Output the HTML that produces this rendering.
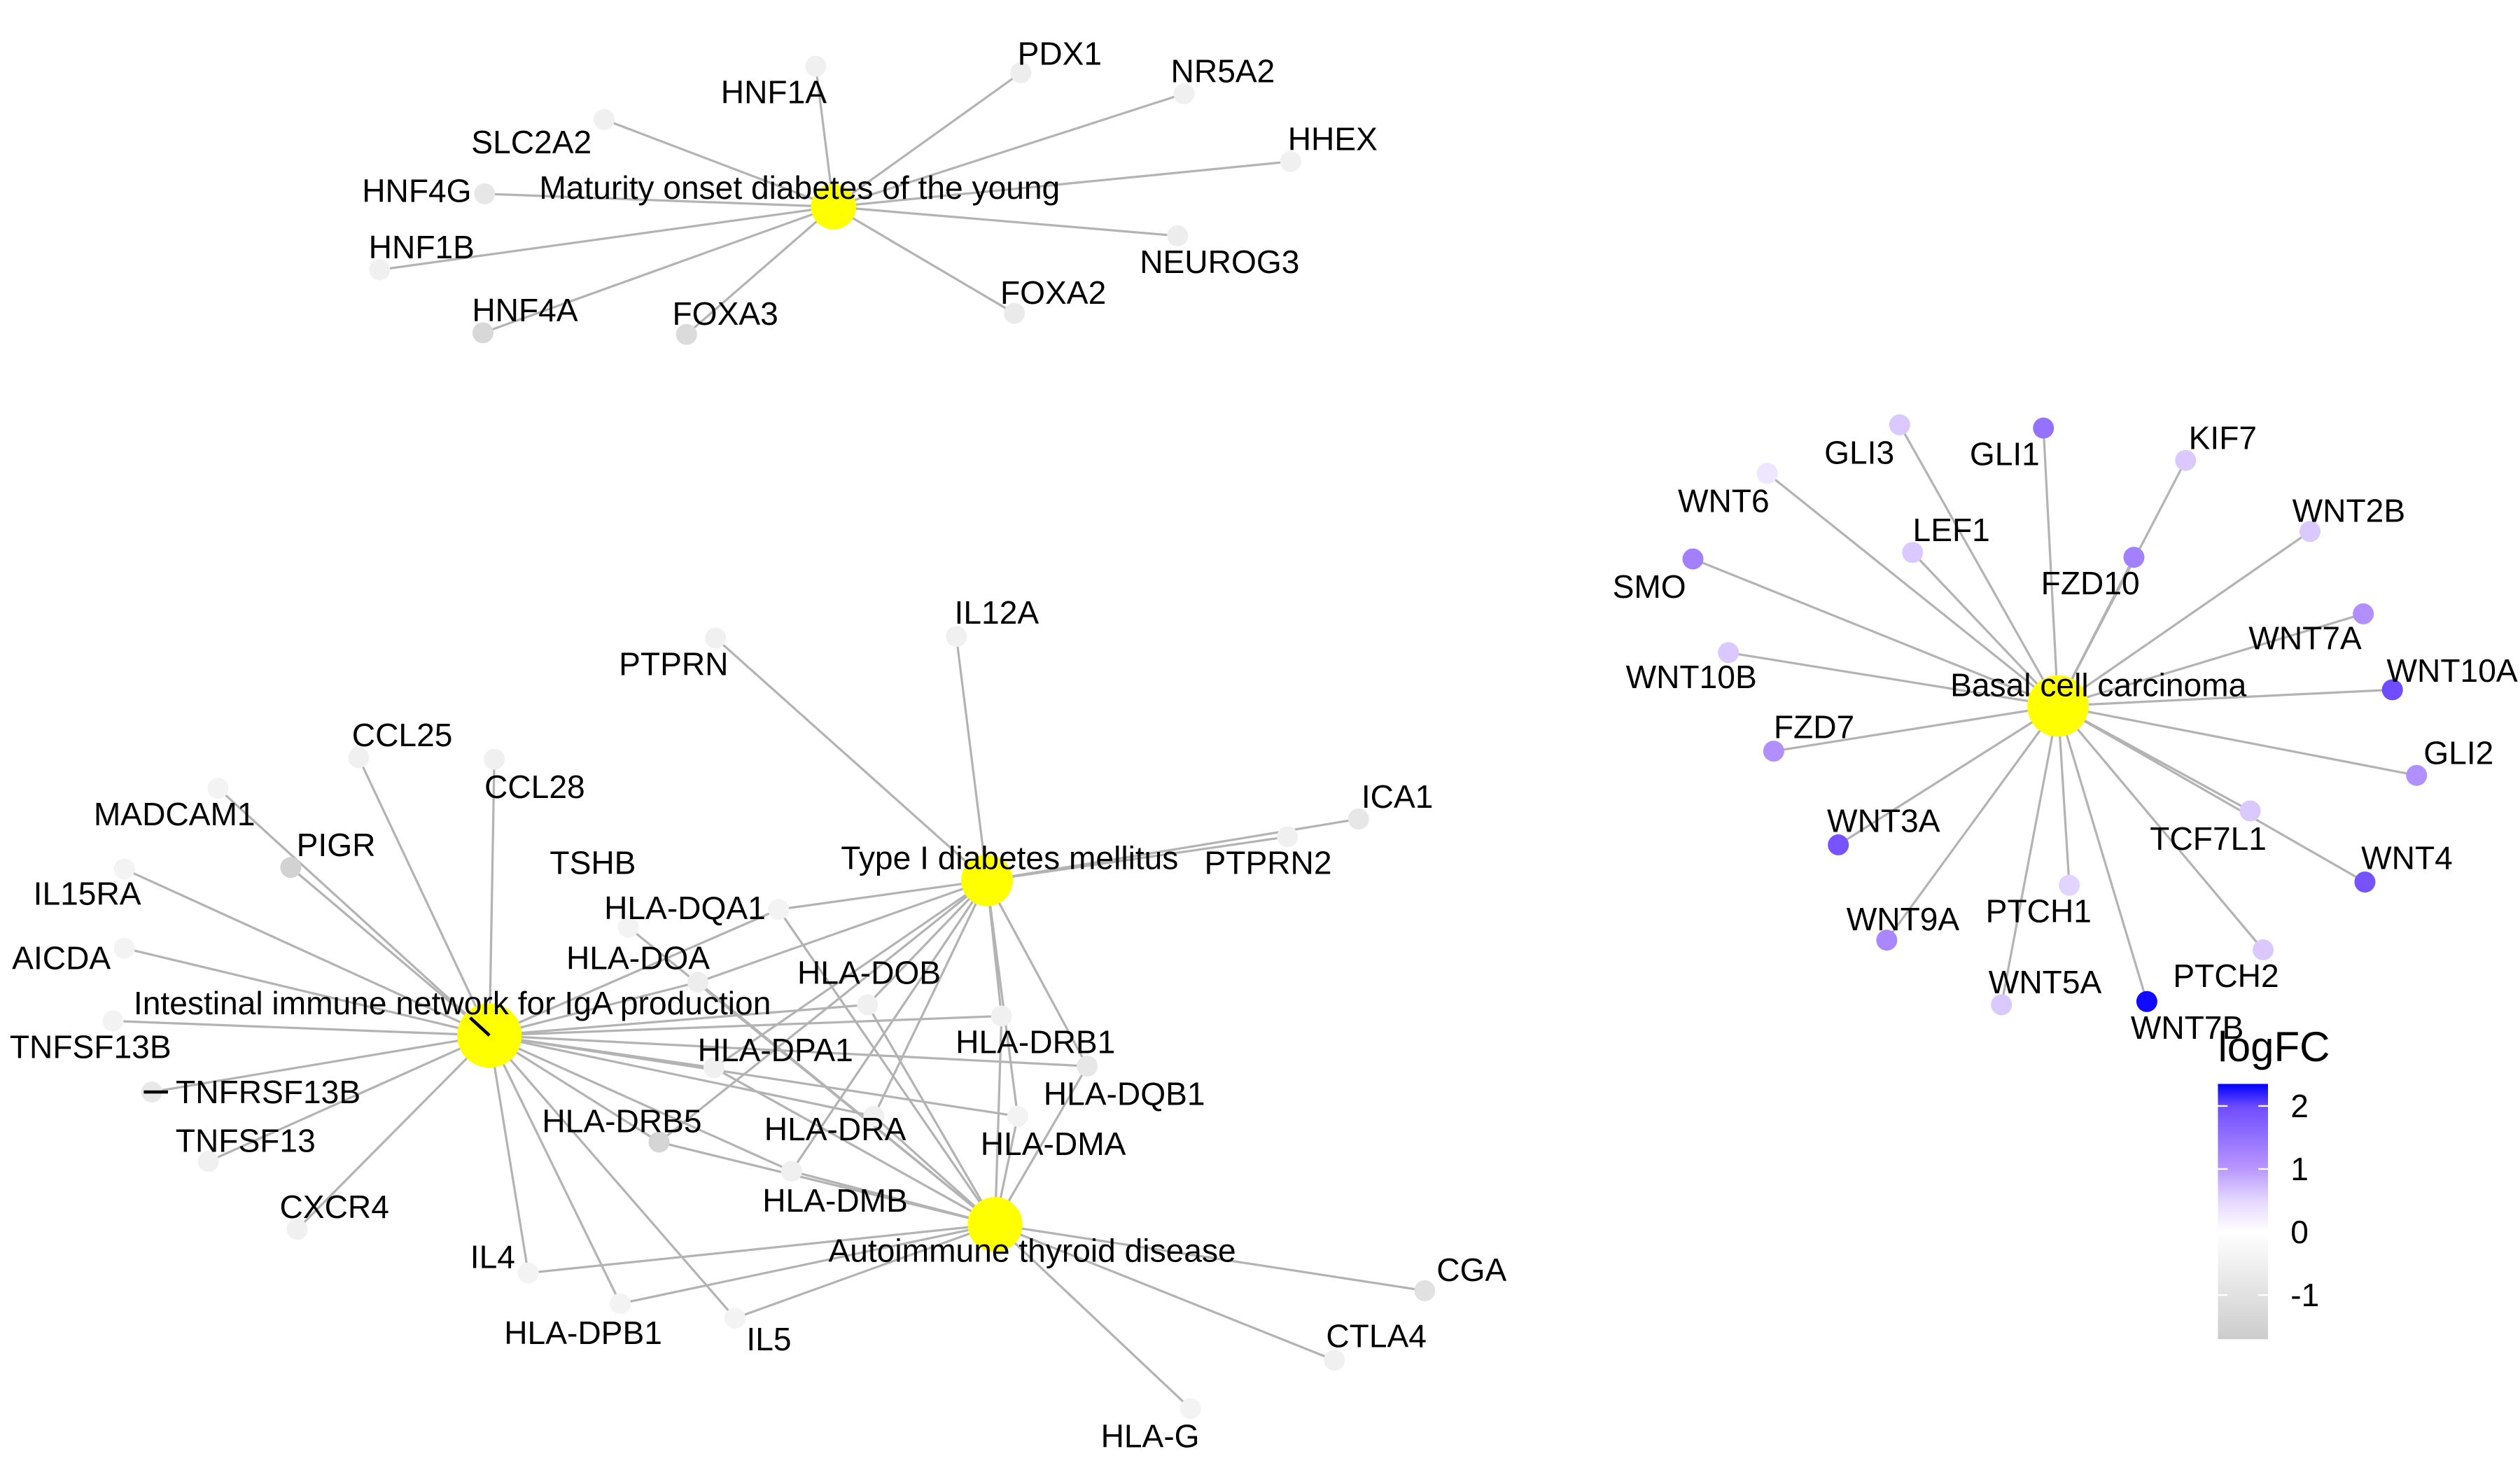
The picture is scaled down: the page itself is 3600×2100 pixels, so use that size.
<!DOCTYPE html>
<html><head><meta charset="utf-8"><style>
html,body{margin:0;padding:0;background:#fff;}
svg{display:block;}
text{font-family:"Liberation Sans",Arial,sans-serif;fill:#000;}
</style></head><body>
<svg id="net" width="3600" height="2100" viewBox="0 0 1560 910" xmlns="http://www.w3.org/2000/svg">
<defs>
<linearGradient id="lg" x1="0" y1="1" x2="0" y2="0">
<stop offset="0" stop-color="#cccccc"/>
<stop offset="0.42" stop-color="#ffffff"/>
<stop offset="0.55" stop-color="#e2d4ff"/>
<stop offset="0.67" stop-color="#b896ff"/>
<stop offset="0.91" stop-color="#6f4cff"/>
<stop offset="1" stop-color="#0000ff"/>
</linearGradient>
</defs>
<g id="edges"></g>
<g id="nodes"></g>
<g id="labels"></g>
<g>
<text x="1373" y="657" font-size="26">logFC</text>
<rect x="1373" y="671" width="31" height="158" fill="url(#lg)"/>
<g id="legticks"></g>
</g>
</svg>
<script>
// category centers
const catNames=["Maturity onset diabetes of the young","Basal cell carcinoma","Intestinal immune network for IgA production","Type I diabetes mellitus","Autoimmune thyroid disease"];
const catPos=[[516,128],[1274,437],[303,641],[611,545],[616,758]];
const catR=[14,19,20,16,17];
const catLab=[[495,116],[1299,424],[280,621],[625,531],[639,774]];
// genes
const geneNames=["HNF1A","PDX1","NR5A2","HHEX","SLC2A2","HNF4G","HNF1B","HNF4A","FOXA3","FOXA2","NEUROG3",
"GLI3","GLI1","KIF7","WNT6","LEF1","FZD10","WNT2B","SMO","WNT7A","WNT10B","WNT10A","FZD7","GLI2","WNT3A","TCF7L1","WNT4","WNT9A","PTCH1","PTCH2","WNT5A","WNT7B",
"PTPRN","IL12A","ICA1","PTPRN2","CCL25","CCL28","MADCAM1","PIGR","IL15RA","AICDA","TNFSF13B","TNFRSF13B","TNFSF13","CXCR4","IL4","HLA-DPB1","IL5","TSHB",
"HLA-DQA1","HLA-DOA","HLA-DOB","HLA-DRB1","HLA-DPA1","HLA-DQB1","HLA-DRB5","HLA-DRA","HLA-DMA","HLA-DMB","CGA","CTLA4","HLA-G"];
const logFC=[-0.5,-0.6,-0.5,-0.5,-0.5,-0.8,-0.5,-1.3,-1.2,-0.7,-0.6,
0.6,1.5,0.6,0.3,0.6,1.3,0.6,1.3,1.1,0.6,2.0,1.1,1.1,1.9,0.6,1.9,1.2,0.5,0.6,0.6,2.3,
-0.5,-0.5,-0.8,-0.5,-0.5,-0.5,-0.4,-1.5,-0.4,-0.4,-0.4,-0.8,-0.5,-0.5,-0.4,-0.4,-0.4,-0.4,
-0.4,-0.6,-0.5,-0.5,-0.5,-0.8,-1.4,-0.5,-0.4,-0.5,-1.0,-0.5,-0.4];
const genePos=[[505,41],[632,45],[733,58],[799,100],[374,74],[300,120],[235,167],[299,206],[425,207],[628,194],[729,146],
[1176,263],[1265,265],[1353,285],[1094,293],[1184,342],[1321,345],[1430,329],[1048,346],[1463,380],[1070,404],[1481,427],[1098,465],[1496,480],[1138,523],[1393,502],[1464,546],[1168,582],[1281,548],[1401,588],[1239,622],[1329,620],
[443,395],[592,394],[841,507],[797,518],[222,469],[306,470],[135,488],[180,537],[77,538],[77,587],[70,632],[94,676],[129,719],[184,761],[327,788],[384,807],[455,816],[389,574],
[482,563],[432,608],[537,622],[620,629],[442,661],[673,660],[408,707],[541,691],[630,691],[490,725],[882,799],[826,842],[737,872]];
const geneLab=[[479,57],[656,33],[757,44],[825,86],[329,88],[258,118],[261,153],[325,192],[449,194],[652,181],[755,162],
[1151,280],[1241,281],[1376,271],[1067,310],[1208,328],[1294,361],[1454,316],[1021,363],[1427,395],[1047,419],[1518,415],[1123,450],[1522,466],[1166,508],[1367,519],[1490,531],[1178,569],[1262,564],[1378,604],[1266,608],[1354,636],
[417,411],[617,379],[865,493],[785,534],[249,455],[331,487],[108,504],[208,523],[54,553],[38,593],[56,648],[166,676],[152,706],[207,747],[305,778],[361,825],[476,829],[367,534],
[424,562],[395,593],[538,602],[641,645],[480,650],[696,677],[385,694],[517,699],[652,708],[517,743],[911,786],[852,827],[712,889]];
// gene -> category memberships (indices into catNames)
const geneCats=[[0],[0],[0],[0],[0],[0],[0],[0],[0],[0],[0],
[1],[1],[1],[1],[1],[1],[1],[1],[1],[1],[1],[1],[1],[1],[1],[1],[1],[1],[1],[1],[1],
[3],[3],[3],[3],[2],[2],[2],[2],[2],[2],[2],[2],[2],[2],[2,4],[2,4],[2,4],[4],
[2,3,4],[2,3,4],[2,3,4],[2,3,4],[2,3,4],[2,3,4],[2,3,4],[2,3,4],[2,3,4],[2,3,4],[4],[4],[4]];
const legTicks=[2,1,0,-1];

const NS="http://www.w3.org/2000/svg";
function mk(t,a){const e=document.createElementNS(NS,t);for(const k in a)e.setAttribute(k,a[k]);return e;}
function lerp(a,b,t){return a.map((v,i)=>Math.round(v+(b[i]-v)*t));}
const stops=[[-1.7,[204,204,204]],[0,[255,255,255]],[0.5,[226,212,255]],[1,[184,150,255]],[2,[111,76,255]],[2.35,[0,0,255]]];
function col(v){v=Math.max(-1.7,Math.min(2.35,v));for(let i=0;i<stops.length-1;i++){if(v<=stops[i+1][0]){const t=(v-stops[i][0])/(stops[i+1][0]-stops[i][0]);const c=lerp(stops[i][1],stops[i+1][1],t);return `rgb(${c[0]},${c[1]},${c[2]})`;}}return "blue";}
const legY=v=>829-(v+1.7)/(4.05)*158;

const E=document.getElementById('edges'),N=document.getElementById('nodes'),L=document.getElementById('labels');
geneNames.forEach((g,i)=>{geneCats[i].forEach(c=>{
 const ln=mk('line',{x1:catPos[c][0],y1:catPos[c][1],x2:genePos[i][0],y2:genePos[i][1],stroke:'#b3b3b3','stroke-width':1.4});
 
 
 E.appendChild(ln);});});
geneNames.forEach((g,i)=>{
 const c=mk('circle',{cx:genePos[i][0],cy:genePos[i][1],r:6.5,fill:col(logFC[i])});
 
 
 N.appendChild(c);
 const t=mk('text',{x:geneLab[i][0],y:geneLab[i][1]+7,'font-size':20,'text-anchor':'middle'});
 t.textContent=g;
 
 
 L.appendChild(t);});
catNames.forEach((n,i)=>{
 const c=mk('circle',{cx:catPos[i][0],cy:catPos[i][1],r:catR[i],fill:'#ffff00'});
 
 
 N.appendChild(c);
 const t=mk('text',{x:catLab[i][0],y:catLab[i][1]+7,'font-size':20,'text-anchor':'middle'});
 t.textContent=n;
 
 
 L.appendChild(t);});
const bl=mk('line',{x1:291,y1:630,x2:303,y2:641,stroke:'#000','stroke-width':2});


N.appendChild(bl);
const dl=mk('line',{x1:89,y1:676,x2:104,y2:676,stroke:'#000','stroke-width':2});


N.appendChild(dl);
const LT=document.getElementById('legticks');
legTicks.forEach(v=>{
 const y=legY(v);
 LT.appendChild(mk('line',{x1:1373,y1:y,x2:1379,y2:y,stroke:'#fff','stroke-width':1}));
 LT.appendChild(mk('line',{x1:1398,y1:y,x2:1404,y2:y,stroke:'#fff','stroke-width':1}));
 const t=mk('text',{x:1418,y:y+7,'font-size':20});
 t.textContent=v===-1?"-1":String(v);
 
 
 LT.appendChild(t);});
</script>
</body></html>
